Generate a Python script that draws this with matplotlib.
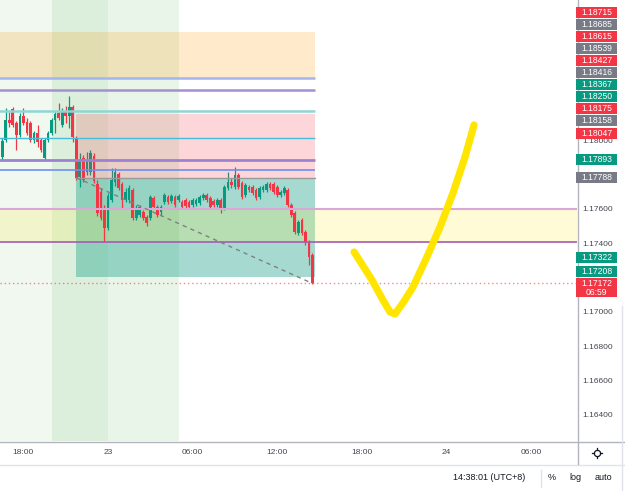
import matplotlib
matplotlib.use("Agg")
import matplotlib.pyplot as plt
import numpy as np
from matplotlib.patches import Rectangle
from matplotlib.lines import Line2D
import matplotlib.transforms as mtransforms

plt.rcParams['font.family'] = ['Liberation Sans', 'DejaVu Sans']

# ---------------- data ----------------
# 15-minute EURUSD candles, time in hours relative to 23 00:00 (UTC+8)
bar_hours = np.arange(-7.75, 14.51, 0.25)
opens = [
    1.17821, 1.17909, 1.18008, 1.18124, 1.18189, 1.18107, 1.18037, 1.18148, 1.18113, 1.18107,
    1.18008, 1.18049, 1.18008, 1.17903, 1.18008, 1.18049, 1.18124, 1.18165, 1.18095, 1.18177,
    1.18148, 1.18200, 1.18020, 1.17792, 1.17903, 1.17821, 1.17821, 1.17915, 1.17751, 1.17705,
    1.17611, 1.17495, 1.17658, 1.17763, 1.17810, 1.17751, 1.17658, 1.17658, 1.17716, 1.17553,
    1.17571, 1.17588, 1.17559, 1.17553, 1.17670, 1.17617, 1.17588, 1.17646, 1.17676, 1.17652,
    1.17676, 1.17658, 1.17646, 1.17658, 1.17646, 1.17629, 1.17635, 1.17641, 1.17670, 1.17687,
    1.17670, 1.17652, 1.17629, 1.17658, 1.17611, 1.17728, 1.17763, 1.17734, 1.17804, 1.17757,
    1.17687, 1.17734, 1.17734, 1.17716, 1.17676, 1.17716, 1.17716, 1.17751, 1.17751, 1.17734,
    1.17687, 1.17699, 1.17716, 1.17629, 1.17582, 1.17466, 1.17541, 1.17471, 1.17413, 1.17337,
]
closes = [
    1.17950, 1.18002, 1.18124, 1.18107, 1.18095, 1.18037, 1.18148, 1.18107, 1.18049, 1.18008,
    1.18049, 1.17996, 1.17950, 1.18008, 1.18049, 1.18124, 1.18159, 1.18136, 1.18171, 1.18148,
    1.18200, 1.18025, 1.17786, 1.17891, 1.17775, 1.17891, 1.17932, 1.17769, 1.17582, 1.17553,
    1.17495, 1.17681, 1.17775, 1.17821, 1.17728, 1.17658, 1.17705, 1.17728, 1.17553, 1.17600,
    1.17617, 1.17553, 1.17524, 1.17676, 1.17617, 1.17571, 1.17617, 1.17687, 1.17646, 1.17681,
    1.17629, 1.17681, 1.17617, 1.17623, 1.17617, 1.17658, 1.17658, 1.17676, 1.17687, 1.17658,
    1.17617, 1.17629, 1.17658, 1.17611, 1.17734, 1.17763, 1.17745, 1.17804, 1.17734, 1.17676,
    1.17745, 1.17716, 1.17699, 1.17670, 1.17728, 1.17734, 1.17751, 1.17728, 1.17705, 1.17687,
    1.17705, 1.17728, 1.17629, 1.17571, 1.17471, 1.17530, 1.17466, 1.17413, 1.17326, 1.17172,
]
highs = [
    1.17961, 1.18020, 1.18194, 1.18171, 1.18200, 1.18119, 1.18165, 1.18194, 1.18136, 1.18119,
    1.18060, 1.18095, 1.18020, 1.18020, 1.18060, 1.18136, 1.18171, 1.18224, 1.18194, 1.18206,
    1.18264, 1.18212, 1.18031, 1.17932, 1.17920, 1.17938, 1.17950, 1.17932, 1.17775, 1.17728,
    1.17629, 1.17699, 1.17845, 1.17845, 1.17821, 1.17763, 1.17728, 1.17745, 1.17728, 1.17629,
    1.17629, 1.17600, 1.17571, 1.17687, 1.17681, 1.17629, 1.17629, 1.17699, 1.17687, 1.17693,
    1.17687, 1.17693, 1.17658, 1.17670, 1.17658, 1.17670, 1.17670, 1.17687, 1.17699, 1.17699,
    1.17681, 1.17664, 1.17670, 1.17670, 1.17745, 1.17821, 1.17786, 1.17850, 1.17815, 1.17769,
    1.17757, 1.17745, 1.17745, 1.17728, 1.17740, 1.17745, 1.17763, 1.17763, 1.17763, 1.17745,
    1.17716, 1.17740, 1.17728, 1.17641, 1.17594, 1.17541, 1.17553, 1.17483, 1.17425, 1.17349,
]
lows = [
    1.17804, 1.17891, 1.17996, 1.18084, 1.18084, 1.17950, 1.18025, 1.18095, 1.18037, 1.17996,
    1.17990, 1.17967, 1.17938, 1.17891, 1.17996, 1.18037, 1.18049, 1.18124, 1.18084, 1.18107,
    1.18078, 1.17996, 1.17775, 1.17734, 1.17763, 1.17804, 1.17804, 1.17757, 1.17565, 1.17541,
    1.17413, 1.17483, 1.17646, 1.17740, 1.17716, 1.17611, 1.17646, 1.17641, 1.17541, 1.17541,
    1.17559, 1.17541, 1.17506, 1.17541, 1.17606, 1.17559, 1.17571, 1.17635, 1.17635, 1.17641,
    1.17617, 1.17646, 1.17606, 1.17611, 1.17606, 1.17617, 1.17623, 1.17629, 1.17658, 1.17646,
    1.17606, 1.17617, 1.17617, 1.17582, 1.17600, 1.17716, 1.17728, 1.17722, 1.17722, 1.17664,
    1.17676, 1.17705, 1.17687, 1.17658, 1.17664, 1.17705, 1.17705, 1.17716, 1.17693, 1.17676,
    1.17676, 1.17687, 1.17617, 1.17559, 1.17460, 1.17454, 1.17454, 1.17396, 1.17279, 1.17168,
]

# session background bands (hours)
session_edges = [-8.0, -4.0, 0.0, 5.0]
session_colors = ['#f0f8f0', '#dcefdd', '#e9f5e9']

# drawings
zone_orange = (1.18369, 1.18635)
drawing_end_hour = 14.65
level_lines = [  # price, colour, width
    (1.18367, '#a3b5ee', 1.8),
    (1.18299, '#a58fd3', 1.8),
    (1.18175, '#8ed6d6', 1.8),
    (1.18019, '#45bddb', 1.0),
    (1.17893, '#9c83d0', 2.0),
    (1.17833, '#6e8ff2', 1.2),
]
yellow_zone = (1.17413, 1.17606)
pos_start_hour = -2.25
pos_entry, pos_stop, pos_target = 1.17788, 1.18158, 1.17208
current_price = 1.17172
countdown = '06:59'

check_hours = [17.45, 17.59, 18.72, 19.50, 20.00, 20.35, 20.92, 21.63, 22.62, 23.55, 24.47, 25.32, 25.96]
check_prices = [1.17355, 1.17338, 1.17192, 1.17075, 1.17006, 1.16994, 1.17058, 1.17151, 1.17326,
                1.17501, 1.17699, 1.17908, 1.18095]

# price-scale labels
label_prices = [1.18715, 1.18685, 1.18615, 1.18539, 1.18427, 1.18416, 1.18367, 1.18250,
                1.18175, 1.18158, 1.18047, 1.17893, 1.17788, 1.17322, 1.17208, 1.17172]
label_kinds = ['down', 'flat', 'down', 'flat', 'down', 'flat', 'up', 'up',
               'down', 'flat', 'down', 'up', 'flat', 'up', 'up', 'down']

price_ticks = [1.164, 1.166, 1.168, 1.170, 1.172, 1.174, 1.176, 1.178, 1.180, 1.182, 1.184, 1.186]
time_ticks = [-6, 0, 6, 12, 18, 24, 30]
time_labels = ['18:00', '23', '06:00', '12:00', '18:00', '24', '06:00']

UP, DOWN, FLAT = '#089981', '#f23645', '#787b86'
kind_color = {'up': UP, 'down': DOWN, 'flat': FLAT}

# ---------------- figure ----------------
W, H = 625, 491
fig = plt.figure(figsize=(W / 100, H / 100), dpi=100)
fig.patch.set_facecolor('white')
AX_R, AX_B = 577, 441
ax = fig.add_axes([0, 1 - AX_B / H, AX_R / W, AX_B / H])
ax.set_xlim(-108 / 14.1, (AX_R - 108) / 14.1)
ax.set_ylim(1.16254, 1.18823)
for s in ax.spines.values():
    s.set_visible(False)

# sessions
for a, b, c in zip(session_edges[:-1], session_edges[1:], session_colors):
    ax.axvspan(a, b, color=c, lw=0, zorder=0)

x_left = -9
# orange zone
ax.add_patch(Rectangle((x_left, zone_orange[0]), drawing_end_hour - x_left,
                       zone_orange[1] - zone_orange[0], facecolor='#ff9800', alpha=0.2, lw=0, zorder=1))
# position tool
ax.add_patch(Rectangle((pos_start_hour, pos_target), drawing_end_hour - pos_start_hour,
                       pos_entry - pos_target, facecolor='#089981', alpha=0.36, lw=0, zorder=1.2))
# yellow zone (extends to right)
ax.add_patch(Rectangle((x_left, yellow_zone[0]), 60, yellow_zone[1] - yellow_zone[0],
                       facecolor='#ffeb3b', alpha=0.2, lw=0, zorder=1.4))

# candles
t = bar_hours
o = np.array(opens); c = np.array(closes); hi = np.array(highs); lo = np.array(lows)
cols = np.where(c >= o, UP, DOWN)
ax.vlines(t, lo, hi, colors=cols, lw=0.9, zorder=2)
body = np.maximum(np.abs(c - o), 0.00005)
ax.bar(t, body, bottom=np.minimum(o, c), width=0.19, color=cols, lw=0, zorder=2.1)

# stop zone on top of candles
ax.add_patch(Rectangle((pos_start_hour, pos_entry), drawing_end_hour - pos_start_hour,
                       pos_stop - pos_entry, facecolor='#f23645', alpha=0.2, lw=0, zorder=2.5))
ax.plot([pos_start_hour, drawing_end_hour], [pos_entry, pos_entry], color='#9a9a9a', lw=1, zorder=3)

for p, col, lw in level_lines:
    ax.plot([x_left, drawing_end_hour], [p, p], color=col, lw=lw, zorder=3, solid_capstyle='butt')
ax.axhline(yellow_zone[1], color='#dba6d8', lw=1.5, zorder=3)
ax.axhline(yellow_zone[0], color='#a35bb5', lw=1.2, zorder=3)

# current price line
ax.axhline(current_price, color='#f23645', alpha=0.6, lw=1, ls=(0, (1, 2)), zorder=3)
# position dashed line
ax.plot([pos_start_hour, t[-1]], [pos_entry, current_price], color='#808080', lw=1,
        ls=(0, (3, 3)), zorder=3.5)

# check mark
ax.plot(check_hours, check_prices, color='#ffe500', lw=5.2, solid_capstyle='round',
        solid_joinstyle='round', zorder=6)

ax.set_xticks(time_ticks)
ax.set_xticklabels(time_labels)
ax.tick_params(axis='x', length=0, pad=5.5, labelsize=6, labelcolor='#434651')
ax.tick_params(axis='y', left=False, labelleft=False, right=False, labelright=False)
ax.set_ylim(1.16254, 1.18823)

# frame lines in pixels
ident = mtransforms.IdentityTransform()
def hline(y, x0, x1, color, lw=1):
    fig.add_artist(Line2D([x0, x1], [H - y, H - y], color=color, lw=lw, transform=ident))
def vline(x, y0, y1, color, lw=1):
    fig.add_artist(Line2D([x, x], [H - y0, H - y1], color=color, lw=lw, transform=ident))
hline(441.5, 0, 625, '#b2b5be')
hline(464.5, 0, 625, '#e0e3eb')
vline(577.5, 0, 464, '#b2b5be')
vline(540.5, 470, 487, '#e0e3eb')
vline(621.5, 306, 491, '#e0e3eb')

# price labels with stacking
fig.canvas.draw()
def to_px(p):
    return H - ax.transData.transform((0, p))[1]

true_y = [to_px(p) for p in label_prices]
cur_idx = label_prices.index(current_price)
above = [5.5] * len(label_prices)
below = [5.5] * len(label_prices)
below[cur_idx] = 13.5

def stack_labels(ys, above, below, fixed, gap=1.0):
    order = sorted(range(len(ys)), key=lambda i: ys[i])
    groups = [[i] for i in order]

    def place(g):
        offs = [0.0]
        for a, b in zip(g[:-1], g[1:]):
            offs.append(offs[-1] + below[a] + above[b] + gap)
        if fixed in g:
            k = g.index(fixed)
            base = ys[g[k]] - offs[k]
        else:
            base = np.mean([ys[i] for i in g]) - np.mean(offs)
        return [base + q for q in offs]

    changed = True
    while changed:
        changed = False
        for j in range(len(groups) - 1):
            p1, p2 = place(groups[j]), place(groups[j + 1])
            if p1[-1] + below[groups[j][-1]] + gap > p2[0] - above[groups[j + 1][0]]:
                groups[j] = groups[j] + groups[j + 1]
                del groups[j + 1]
                changed = True
                break
    out = [0.0] * len(ys)
    for g in groups:
        for i, y in zip(g, place(g)):
            out[i] = y
    return out

disp_y = stack_labels(true_y, above, below, cur_idx)
boxes = [(disp_y[i] - above[i], disp_y[i] + below[i]) for i in range(len(label_prices))]

# price scale tick labels (hidden where a price label covers them, as on the screen)
blend = mtransforms.blended_transform_factory(ax.transAxes, ax.transData)
for p in price_ticks:
    y = to_px(p)
    if any(top - 2 <= y <= bot + 2 for top, bot in boxes):
        continue
    ax.text(1 + 5.5 / AX_R, p, f'{p:.5f}', transform=blend,
            fontsize=6, color='#434651', ha='left', va='center', clip_on=False)

for i, (p, k) in enumerate(zip(label_prices, label_kinds)):
    y = disp_y[i]
    top, bot = boxes[i]
    fig.add_artist(Rectangle((576, H - bot), 41, bot - top, facecolor=kind_color[k],
                             lw=0, transform=ident, zorder=2))
    fig.text(596.5 / W, (H - y) / H, f'{p:.5f}', color='white', fontsize=6.2,
             ha='center', va='center', zorder=3)
    if i == cur_idx:
        fig.text(596.5 / W, (H - y - 9.5) / H, countdown, color='white', fontsize=6.2,
                 ha='center', va='center', zorder=3)

# bottom toolbar
fig.text(489 / W, (H - 478) / H, '14:38:01 (UTC+8)', fontsize=6.5, color='#131722',
         ha='center', va='center')
fig.text(552 / W, (H - 478) / H, '%', fontsize=6.5, color='#131722', ha='center', va='center')
fig.text(575 / W, (H - 478) / H, 'log', fontsize=6.5, color='#131722', ha='center', va='center')
fig.text(603 / W, (H - 478) / H, 'auto', fontsize=6.5, color='#131722', ha='center', va='center')

# settings icon
fig.add_artist(Line2D([597], [H - 453], marker='o', ms=4.5, mfc='white', mec='#131722',
                      mew=0.9, transform=ident, zorder=4))
for ang in range(0, 360, 90):
    dx, dy = np.cos(np.radians(ang)), np.sin(np.radians(ang))
    fig.add_artist(Line2D([597 + 3.2 * dx, 597 + 5.2 * dx], [H - 453 + 3.2 * dy, H - 453 + 5.2 * dy],
                          color='#131722', lw=0.9, transform=ident, zorder=4))

fig.savefig('out.png', dpi=100)
